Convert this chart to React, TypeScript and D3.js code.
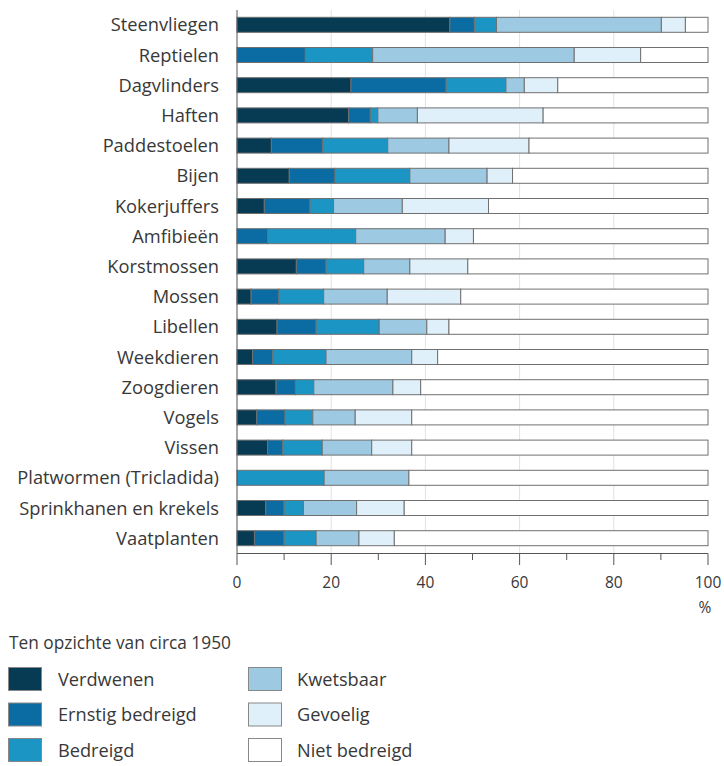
import React from "react";
import * as d3 from "d3";

const categories = [
  "Steenvliegen", "Reptielen", "Dagvlinders", "Haften", "Paddestoelen", "Bijen",
  "Kokerjuffers", "Amfibieën", "Korstmossen", "Mossen", "Libellen", "Weekdieren",
  "Zoogdieren", "Vogels", "Vissen", "Platwormen (Tricladida)", "Sprinkhanen en krekels", "Vaatplanten",
];
const seriesNames = ["Verdwenen", "Ernstig bedreigd", "Bedreigd", "Kwetsbaar", "Gevoelig", "Niet bedreigd"];
const verdwenen = [45.2, 0, 24.2, 23.7, 7.3, 11.1, 5.8, 0, 12.6, 3.0, 8.5, 3.3, 8.3, 4.2, 6.5, 0, 6.1, 3.7];
const ernstig = [5.2, 14.5, 20.2, 4.6, 10.9, 9.7, 9.7, 6.5, 6.3, 5.9, 8.3, 4.3, 4.1, 6.0, 3.2, 0, 3.9, 6.3];
const bedreigd = [4.7, 14.3, 12.7, 1.6, 13.8, 15.9, 5.0, 18.7, 8.0, 9.5, 13.4, 11.3, 3.9, 5.9, 8.4, 18.5, 4.1, 6.8];
const kwetsbaar = [35.0, 42.8, 3.9, 8.4, 13.0, 16.4, 14.6, 19.0, 9.8, 13.5, 10.1, 18.2, 16.8, 9.0, 10.5, 18.0, 11.3, 9.1];
const gevoelig = [5.1, 14.1, 7.1, 26.7, 17.0, 5.4, 18.3, 6.0, 12.3, 15.6, 4.7, 5.5, 5.9, 12.0, 8.5, 0, 10.1, 7.5];
const nietBedreigd = [4.8, 14.3, 31.9, 35.0, 38.0, 41.5, 46.6, 49.8, 51.0, 52.5, 55.0, 57.4, 61.0, 62.9, 62.9, 63.5, 64.5, 66.6];
const xTicks = [0, 20, 40, 60, 80, 100];
const minorTicks = [10, 30, 50, 70, 90];
const gridTicks = [20, 40, 60, 80];
const colors = ["#073a53", "#0a6ca3", "#1b95c4", "#9dc9e3", "#e0f0fa", "#ffffff"];
const legendTitle = "Ten opzichte van circa 1950";

const seriesValues = [verdwenen, ernstig, bedreigd, kwetsbaar, gevoelig, nietBedreigd];
const rows = categories.map((c, i) => {
  const r: any = { cat: c };
  seriesNames.forEach((s, j) => (r[s] = seriesValues[j][i]));
  return r;
});

const FONT = "'Open Sans', sans-serif";
const TEXT = "#383838";

export default function App() {
  const x = d3.scaleLinear().domain([0, 100]).range([237, 708]);
  const y = d3.scaleBand().domain(categories).range([9.7, 553.3]).paddingInner(0.5).paddingOuter(0.25);
  const stack = d3.stack<any>().keys(seriesNames)(rows);
  const bh = 15;
  const yTop = 10;
  const yAxis = 553.5;

  return (
    <div style={{ position: "absolute", left: 0, top: 0 }}>
      <svg width={724} height={766} style={{ display: "block", fontFamily: FONT }}>
        <rect width={724} height={766} fill="#fff" />
        {gridTicks.map((t) => (
          <line key={t} x1={x(t)} x2={x(t)} y1={yTop} y2={yAxis} stroke="#e2e2e2" strokeWidth={1} />
        ))}
        {stack.map((layer, j) =>
          layer.map((d, i) =>
            d[1] - d[0] > 0 ? (
              <rect
                key={j + "-" + i}
                x={x(d[0])}
                y={(y(categories[i]) as number) + y.bandwidth() / 2 - bh / 2}
                width={x(d[1]) - x(d[0])}
                height={bh}
                fill={colors[j]}
                stroke="#707070"
                strokeWidth={1}
              />
            ) : null
          )
        )}
        <line x1={x(0)} x2={x(0)} y1={yTop} y2={yAxis} stroke="#555" strokeWidth={1} />
        <line x1={x(0)} x2={x(100)} y1={yAxis} y2={yAxis} stroke="#555" strokeWidth={1} />
        {xTicks.map((t) => (
          <g key={t}>
            <line x1={x(t)} x2={x(t)} y1={yAxis} y2={565} stroke="#555" strokeWidth={1} />
            <text x={x(t)} y={588} textAnchor="middle" fontSize={15.5} fill={TEXT}>
              {t}
            </text>
          </g>
        ))}
        {minorTicks.map((t) => (
          <line key={t} x1={x(t)} x2={x(t)} y1={yAxis} y2={560} stroke="#555" strokeWidth={1} />
        ))}
        <text x={705} y={613} textAnchor="middle" fontSize={15.5} fill={TEXT}>%</text>
        {categories.map((c) => (
          <text
            key={c}
            x={219}
            y={(y(c) as number) + y.bandwidth() / 2}
            dy="0.36em"
            textAnchor="end"
            fontSize={18.3}
            fill={TEXT}
          >
            {c}
          </text>
        ))}
        <text x={9} y={649} fontSize={17.3} fill={TEXT}>{legendTitle}</text>
        {seriesNames.map((s, j) => {
          const col = Math.floor(j / 3);
          const row = j % 3;
          const sx = col === 0 ? 8.5 : 248.5;
          const sy = 667.5 + row * 35.5;
          return (
            <g key={s}>
              <rect x={sx} y={sy} width={33} height={23} fill={colors[j]} stroke="#888" strokeWidth={1} />
              <text x={col === 0 ? 58 : 297} y={sy + 11.5} dy="0.36em" fontSize={18.2} fill={TEXT}>
                {s}
              </text>
            </g>
          );
        })}
      </svg>
    </div>
  );
}
